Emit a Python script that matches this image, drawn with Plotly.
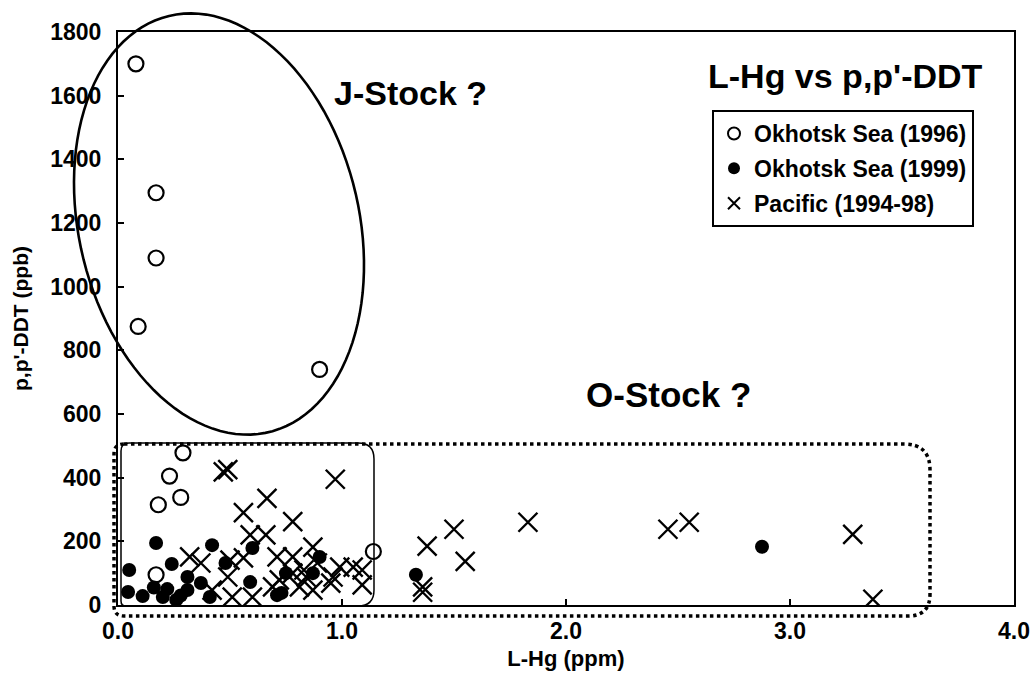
import numpy as np
import plotly.graph_objects as go

# ---------------- data ----------------
okhotsk96_hg = [0.08, 0.17, 0.17, 0.09, 0.90, 0.29, 0.23, 0.28, 0.18, 1.14, 0.17]
okhotsk96_ddt = [1700, 1295, 1090, 875, 740, 478, 405, 338, 315, 168, 95]

okhotsk99_hg = [0.17, 0.42, 0.05, 0.24, 0.045, 0.11, 0.20, 0.26, 0.31, 0.31, 0.37,
                0.41, 0.60, 0.59, 0.71, 0.73, 0.90, 0.87, 0.48, 0.75, 0.16, 0.22,
                0.28, 1.33, 2.875]
okhotsk99_ddt = [195, 188, 110, 129, 41, 28, 25, 16, 47, 88, 69,
                 25, 179, 72, 31, 38, 151, 100, 132, 100, 55, 50,
                 30, 95, 183]

pacific_hg = [0.47, 0.49, 0.97, 0.665, 0.56, 0.78, 0.59, 0.66, 0.32, 0.37, 0.50,
              0.56, 0.71, 0.78, 0.87, 0.83, 0.89, 0.99, 1.05, 1.09, 1.09, 0.95,
              0.81, 0.72, 0.51, 0.60, 0.49, 0.42, 0.69, 0.87, 0.78, 0.84, 0.96,
              1.38, 1.50, 1.55, 1.83, 2.455, 1.36, 1.36, 2.55, 3.28, 3.37]
pacific_ddt = [418, 425, 395, 335, 290, 262, 220, 220, 151, 132, 141,
               148, 151, 151, 182, 110, 132, 119, 119, 110, 63, 69,
               57, 79, 25, 25, 88, 47, 57, 47, 100, 88, 88,
               185, 238, 137, 260, 238, 57, 40, 260, 222, 18]

x_ticks = [0, 1, 2, 3, 4]
x_ticklabels = ["0.0", "1.0", "2.0", "3.0", "4.0"]
y_ticks = [0, 200, 400, 600, 800, 1000, 1200, 1400, 1600, 1800]

# ---------------- geometry helpers (for decorative shapes) ----------------
W, H = 1032, 684
ML, MR, MT, MB = 118, 18, 32, 79
PL, PR, PT, PB = ML, W - MR, MT, H - MB


def px2paper(px, py):
    return (px - PL) / (PR - PL), (PB - py) / (PB - PT)


def rounded_rect_path(x0, y0, x1, y1, r_tl, r_tr, r_br, r_bl):
    def P(x, y):
        a, b = px2paper(x, y)
        return f"{a:.5f},{b:.5f}"

    s = f"M {P(x0 + r_tl, y0)} L {P(x1 - r_tr, y0)} Q {P(x1, y0)} {P(x1, y0 + r_tr)} "
    s += f"L {P(x1, y1 - r_br)} Q {P(x1, y1)} {P(x1 - r_br, y1)} "
    s += f"L {P(x0 + r_bl, y1)} Q {P(x0, y1)} {P(x0, y1 - r_bl)} "
    s += f"L {P(x0, y0 + r_tl)} Q {P(x0, y0)} {P(x0 + r_tl, y0)}"
    return s


def ellipse_path(cx, cy, a, b, theta_deg, n=120):
    th = np.radians(theta_deg)
    ux, uy = -np.sin(th), -np.cos(th)
    vx, vy = np.cos(th), -np.sin(th)
    t = np.linspace(0, 2 * np.pi, n)
    xs = cx + a * np.cos(t) * ux + b * np.sin(t) * vx
    ys = cy + a * np.cos(t) * uy + b * np.sin(t) * vy
    parts = []
    for i, (x, y) in enumerate(zip(xs, ys)):
        p, q = px2paper(x, y)
        parts.append(("M " if i == 0 else "L ") + f"{p:.5f},{q:.5f}")
    return " ".join(parts) + " Z"


FONT = "Liberation Sans, Arial, sans-serif"

fig = go.Figure()
fig.add_trace(go.Scatter(
    x=okhotsk96_hg, y=okhotsk96_ddt, mode="markers", name="Okhotsk Sea (1996)",
    legendgroup="a",
    marker=dict(symbol="circle-open", size=15, color="black", line=dict(width=2.2, color="black")),
))
fig.add_trace(go.Scatter(
    x=okhotsk99_hg, y=okhotsk99_ddt, mode="markers", name="Okhotsk Sea (1999)",
    legendgroup="b",
    marker=dict(symbol="circle", size=14, color="black"),
))
fig.add_trace(go.Scatter(
    x=pacific_hg, y=pacific_ddt, mode="markers", name="Pacific (1994-98)",
    legendgroup="c",
    marker=dict(symbol="x-thin", size=19, color="black", line=dict(width=2.4, color="black")),
))

shapes = [
    dict(type="path", xref="paper", yref="paper",
         path=ellipse_path(219, 224, 214, 140, 13.5),
         line=dict(color="black", width=2.6)),
    dict(type="path", xref="paper", yref="paper",
         path=rounded_rect_path(114, 444, 930, 616, 10, 26, 22, 10),
         line=dict(color="black", width=3.5, dash="dot")),
    dict(type="path", xref="paper", yref="paper",
         path=rounded_rect_path(121, 443, 374, 606, 8, 16, 16, 5),
         line=dict(color="black", width=1.5)),
]


def label(text, px, py, size):
    x, y = px2paper(px, py)
    return dict(text=f"<b>{text}</b>", xref="paper", yref="paper", x=x, y=y,
                xanchor="center", yanchor="middle", showarrow=False,
                font=dict(family=FONT, size=size, color="black"))


annotations = [
    label("J-Stock ?", 410, 93, 34),
    label("O-Stock ?", 668, 395, 35),
    label("L-Hg vs p,p'-DDT", 845, 76, 34),
]

fig.update_layout(
    width=W, height=H,
    margin=dict(l=ML, r=MR, t=MT, b=MB),
    paper_bgcolor="white", plot_bgcolor="white",
    shapes=shapes, annotations=annotations,
    showlegend=True,
    legend=dict(
        x=px2paper(712, 110)[0], y=px2paper(712, 110)[1],
        xanchor="left", yanchor="top",
        bgcolor="white", bordercolor="black", borderwidth=2,
        font=dict(family=FONT, size=23, color="black", weight="bold"),
        tracegroupgap=2, traceorder="grouped",
        itemwidth=30, itemsizing="constant",
    ),
    font=dict(family=FONT, color="black"),
)

fig.update_xaxes(
    range=[0, 4], tickvals=x_ticks, ticktext=x_ticklabels,
    showgrid=False, zeroline=False, automargin=False,
    showline=True, linecolor="black", linewidth=2, mirror=True,
    ticks="inside", ticklen=6, tickwidth=1.5, tickcolor="black",
    tickfont=dict(family=FONT, size=23, color="black", weight="bold"),
    ticklabelstandoff=4,
    title=dict(text="<b>L-Hg (ppm)</b>", font=dict(family=FONT, size=22, color="black"), standoff=8),
)
fig.update_yaxes(
    range=[0, 1800], tickvals=y_ticks,
    showgrid=False, zeroline=False, automargin=False,
    showline=True, linecolor="black", linewidth=2, mirror=True,
    ticks="inside", ticklen=6, tickwidth=1.5, tickcolor="black",
    tickfont=dict(family=FONT, size=23, color="black", weight="bold"),
    ticklabelstandoff=10,
    title=dict(text="<b>p,p'-DDT (ppb)</b>", font=dict(family=FONT, size=21, color="black"), standoff=16),
)

fig.write_html("out.html")
